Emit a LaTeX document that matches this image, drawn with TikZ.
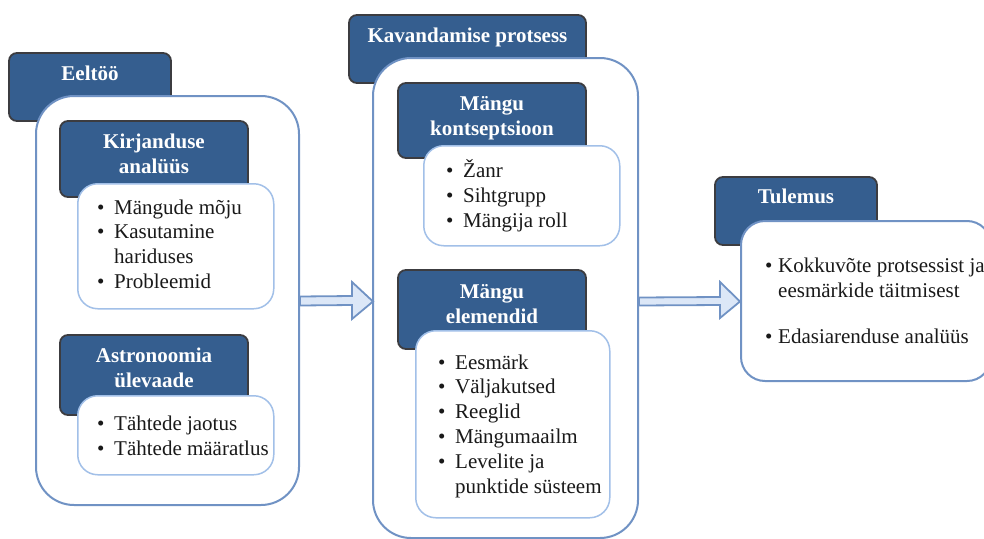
\documentclass[tikz,border=0pt]{standalone}
\usepackage{fontspec}
\setmainfont{Liberation Serif}
\usetikzlibrary{calc}
\definecolor{hdrfill}{RGB}{53,94,143}
\definecolor{hdrline}{RGB}{60,60,64}
\definecolor{boxline}{RGB}{112,146,196}
\definecolor{listline}{RGB}{162,192,232}
\definecolor{arrowfill}{RGB}{220,231,247}
\tikzset{
  hdr/.style={draw=hdrline, fill=hdrfill, line width=1.8pt, rounded corners=8pt},
  bigbox/.style={draw=boxline, fill=white, line width=2pt, rounded corners=38pt},
  listbox/.style={draw=listline, fill=white, line width=1.5pt, rounded corners=20pt},
  hdrtext/.style={text=white, font=\fontsize{21}{25}\selectfont\bfseries, align=center, inner sep=0pt, anchor=base},
  listtext/.style={font=\fontsize{21}{24.8}\selectfont, align=left, inner sep=0pt, anchor=base west, text=black!90},
  blockarrow/.style={draw=boxline, fill=arrowfill, line width=1.8pt, line join=miter},
}
\newcommand{\bul}{\makebox[17pt][l]{\textbullet}}
\newcommand{\ind}{\hspace*{17pt}}
\begin{document}
\begin{tikzpicture}[x=1pt,y=-1pt]
\useasboundingbox (0,0) rectangle (984,538);
\clip (0,0) rectangle (984,538);
\fill[white] (0,0) rectangle (984,538);

% ---------- Eeltoo ----------
\path[hdr] (9,53) rectangle (171,121);
\node[hdrtext] (eeltxt) at (90,80) {Eeltöö};
\node[bigbox, anchor=north west, minimum width=263pt, minimum height=409pt, inner sep=0pt] (eelbox) at (35,95) {};

\path[hdr] (60,121) rectangle (248,197);
\node[hdrtext] (kirtxt) at (154,173) {Kirjanduse\\analüüs};
\node[listbox, anchor=north west, minimum width=196pt, minimum height=125pt, inner sep=0pt] (kirlist) at (77,183) {};
\node[listtext] (kiritems) at (97,288.5) {\bul Mängude mõju\\\bul Kasutamine\\\ind hariduses\\\bul Probleemid};

\path[hdr] (60,335) rectangle (248,415);
\node[hdrtext] (asttxt) at (154,387) {Astronoomia\\ülevaade};
\node[listbox, anchor=north west, minimum width=196pt, minimum height=79pt, inner sep=0pt] (astlist) at (77,395) {};
\node[listtext] (astitems) at (97,455) {\bul Tähtede jaotus\\\bul Tähtede määratlus};

% ---------- Kavandamise protsess ----------
\path[hdr] (349,15) rectangle (586,83);
\node[hdrtext] (kavtxt) at (467.5,42) {Kavandamise protsess};
\node[bigbox, anchor=north west, minimum width=265pt, minimum height=480pt, inner sep=0pt] (kavbox) at (372,57) {};

\path[hdr] (398,83) rectangle (586,158);
\node[hdrtext] (kontxt) at (492,135) {Mängu\\kontseptsioon};
\node[listbox, anchor=north west, minimum width=196pt, minimum height=100pt, inner sep=0pt] (konlist) at (423,145) {};
\node[listtext] (konitems) at (446,227) {\bul Žanr\\\bul Sihtgrupp\\\bul Mängija roll};

\path[hdr] (398,270) rectangle (586,349);
\node[hdrtext] (eletxt) at (492,323) {Mängu\\elemendid};
\node[listbox, anchor=north west, minimum width=194pt, minimum height=187pt, inner sep=0pt] (elelist) at (415,330) {};
\node[listtext] (eleitems) at (438,493) {\bul Eesmärk\\\bul Väljakutsed\\\bul Reeglid\\\bul Mängumaailm\\\bul Levelite ja\\\ind punktide süsteem};

% ---------- Tulemus ----------
\path[hdr] (715,177) rectangle (877,245);
\node[hdrtext] (tultxt) at (796,203) {Tulemus};
\node[draw=boxline, fill=white, line width=2pt, rounded corners=24pt, anchor=north west, minimum width=250pt, minimum height=160pt, inner sep=0pt] (tulbox) at (740,220) {};
\node[listtext] (tulitems1) at (765,297) {\makebox[13pt][l]{\textbullet}Kokkuvõte protsessist ja\\\hspace*{13pt}eesmärkide täitmisest};
\node[listtext] (tulitems2) at (765,343) {\makebox[13pt][l]{\textbullet}Edasiarenduse analüüs};

% ---------- block arrows ----------
\draw[blockarrow] ($(eelbox.east)+(0,-4)$) -- (352,296) -- (352,282) -- ($(kavbox.west |- eelbox.east)+(1,1)$) -- (352,319) -- (352,305) -- ($(eelbox.east)+(0,5)$) -- cycle;
\draw[blockarrow] ($(kavbox.east |- eelbox.east)+(0,-3)$) -- (720,297) -- (720,282) -- ($(tulbox.west |- eelbox.east)+(0,1)$) -- (720,318) -- (720,305) -- ($(kavbox.east |- eelbox.east)+(0,5)$) -- cycle;
\end{tikzpicture}
\end{document}
